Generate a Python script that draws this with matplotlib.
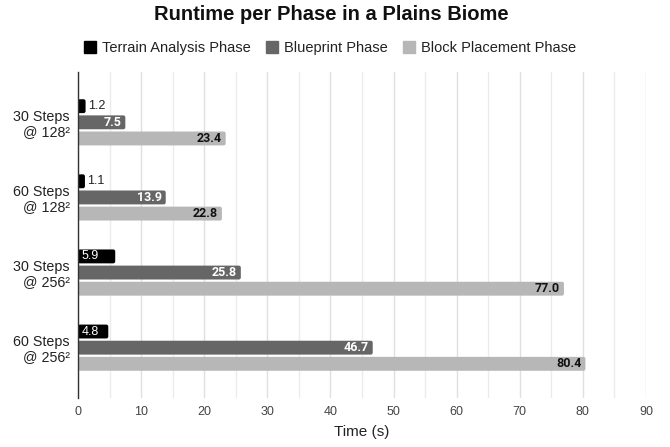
import matplotlib
matplotlib.use("Agg")
import matplotlib.pyplot as plt
from matplotlib.patches import FancyBboxPatch
from matplotlib.ticker import MultipleLocator
import numpy as np

categories = ["30 Steps\n@ 128²", "60 Steps\n@ 128²", "30 Steps\n@ 256²", "60 Steps\n@ 256²"]
series_names = ["Terrain Analysis Phase", "Blueprint Phase", "Block Placement Phase"]
terrain = [1.2, 1.1, 5.9, 4.8]
blueprint = [7.5, 13.9, 25.8, 46.7]
block = [23.4, 22.8, 77.0, 80.4]
colors = ["#000000", "#666666", "#b7b7b7"]
label_colors_inside = ["#ffffff", "#ffffff", "#111111"]
label_weights = ["normal", "bold", "bold"]

plt.rcParams['font.family'] = ['Liberation Sans', 'DejaVu Sans']

fig = plt.figure(figsize=(6.7, 4.47), dpi=100)
ax = fig.add_axes([78/670, 1-398/447, (646-78)/670, (398-72)/447])

ax.set_xlim(0, 90)
ax.set_ylim(3.67, -0.67)

y = np.arange(len(categories))
offsets = [-0.215, 0.0, 0.215]
h = 0.185

xu_per_px = 90 / (646 - 78)
yu_per_px = 4.34 / 326
aspect = yu_per_px / xu_per_px

ax.xaxis.set_major_locator(MultipleLocator(10))
ax.xaxis.set_minor_locator(MultipleLocator(5))
ax.grid(axis='x', which='major', color='#e0e0e0', linewidth=1.0, zorder=0)
ax.grid(axis='x', which='minor', color='#ebebeb', linewidth=1.0, zorder=0)
ax.set_axisbelow(True)

for si, (vals, col) in enumerate(zip([terrain, blueprint, block], colors)):
    bars = ax.barh(y + offsets[si], vals, height=h, color=col, label=series_names[si], zorder=2)
    for b, v in zip(bars, vals):
        x0, y0 = b.get_x(), b.get_y()
        w, hh = b.get_width(), b.get_height()
        b.set_visible(False)
        p = FancyBboxPatch((x0, y0), w, hh,
                           boxstyle="round,pad=0,rounding_size=%f" % (2.0 * xu_per_px),
                           mutation_aspect=aspect, facecolor=col, edgecolor='none', zorder=2)
        ax.add_patch(p)
        yc = y0 + hh / 2
        if si == 0:
            if v < 3:
                ax.text(v + 2 * xu_per_px, yc, f"{v:.1f}", ha='left', va='center',
                        fontsize=9, color='#222222', zorder=3)
            else:
                ax.text(x0 + 4 * xu_per_px, yc, f"{v:.1f}", ha='left', va='center',
                        fontsize=9, color='#ffffff', zorder=3)
        else:
            ax.text(v - 4 * xu_per_px, yc, f"{v:.1f}", ha='right', va='center',
                    fontsize=9, color=label_colors_inside[si], fontweight=label_weights[si],
                    family=['Roboto', 'DejaVu Sans'], zorder=3)

ax.set_yticks(y)
ax.set_yticklabels(categories, fontsize=10.3, color='#222222', ha='right',
                   multialignment='right', linespacing=1.1)
ax.tick_params(axis='y', length=0, pad=6)
ax.tick_params(axis='x', which='both', length=0, labelsize=9, pad=6)
for lab in ax.get_xticklabels():
    lab.set_color('#444444')

for s in ['top', 'right', 'bottom']:
    ax.spines[s].set_visible(False)
ax.spines['left'].set_color('#333333')
ax.spines['left'].set_linewidth(1.0)

ax.set_xlabel("Time (s)", fontsize=11, color='#222222', labelpad=5)

fig.text(331/670, 1 - 15/447, "Runtime per Phase in a Plains Biome", ha='center', va='center',
         fontsize=14.5, fontweight='bold', color='#111111')

handles = [plt.Line2D([0], [0], marker='s', linestyle='none', markersize=9,
                      markerfacecolor=c, markeredgecolor=c) for c in colors]
fig.legend(handles, series_names, loc='center', bbox_to_anchor=(330/670, 1 - 48/447), ncol=3,
           frameon=False, fontsize=10.5, handletextpad=0.4, columnspacing=1.05, handlelength=0.85,
           labelcolor='#222222')

fig.savefig("out.png", dpi=100)
